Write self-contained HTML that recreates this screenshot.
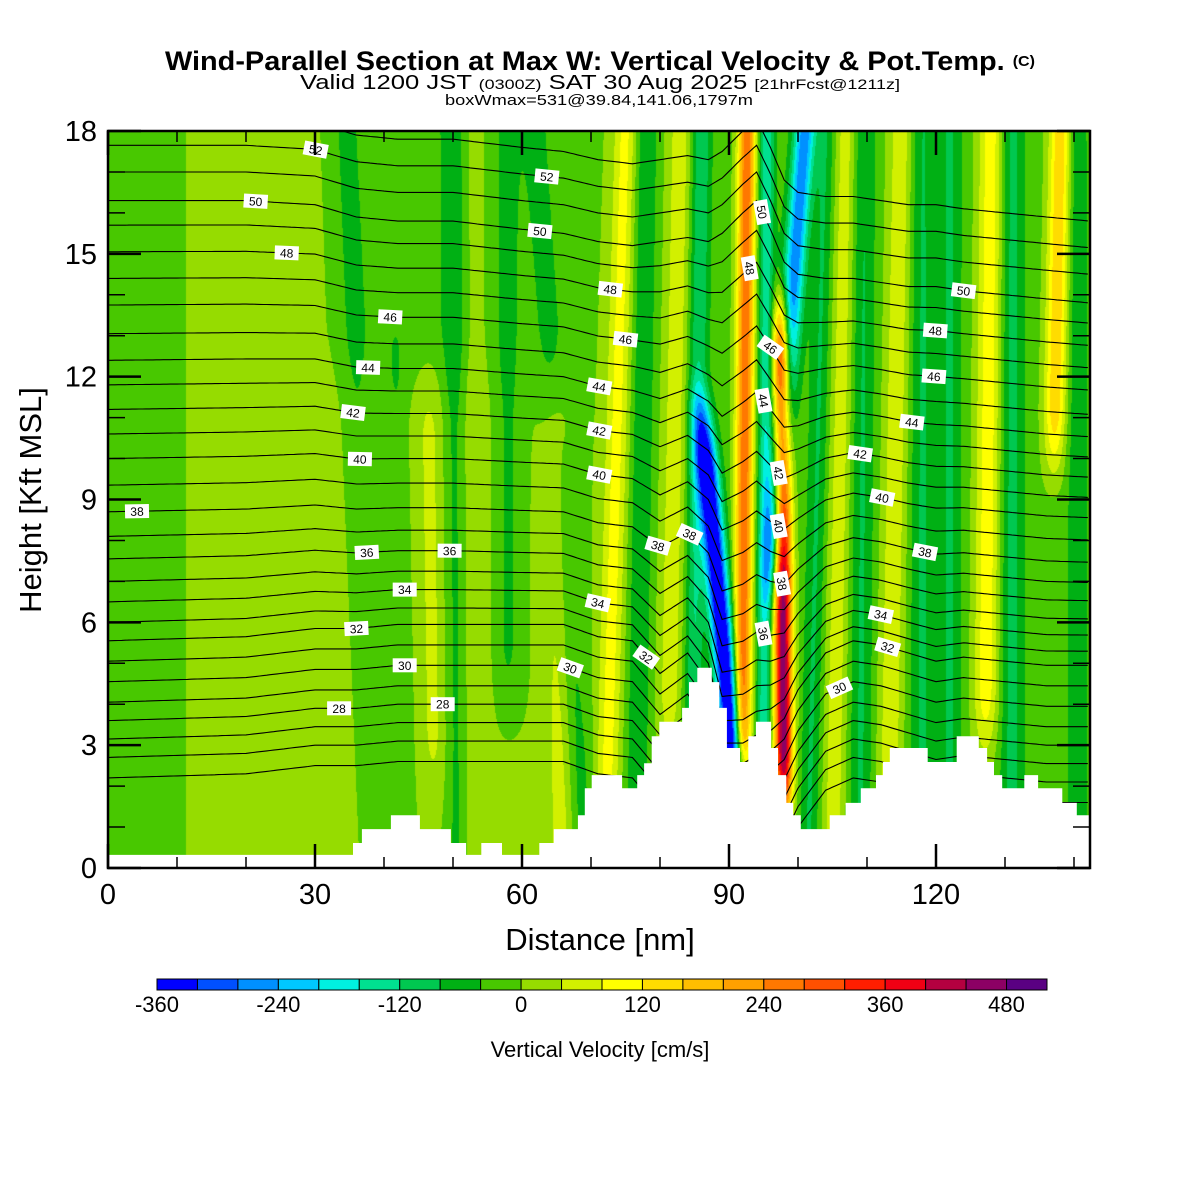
<!DOCTYPE html>
<html><head><meta charset="utf-8">
<style>
html,body{margin:0;padding:0;background:#fff;}
#wrap{position:relative;width:1200px;height:1200px;overflow:hidden;background:#fff;font-family:"Liberation Sans",Arial,sans-serif;}
#field{position:absolute;left:108px;top:131px;}
#ov{position:absolute;left:0;top:0;}
</style></head>
<body>
<div id="wrap">
<canvas id="field" width="982" height="737"></canvas>
<svg id="ov" width="1200" height="1200" xmlns="http://www.w3.org/2000/svg">
  <defs><clipPath id="pc"><rect x="108" y="131" width="982" height="737"/></clipPath></defs>
  <g>
    <text x="600" y="70" text-anchor="middle" font-size="27" font-weight="bold" textLength="870" lengthAdjust="spacingAndGlyphs">Wind-Parallel Section at Max W: Vertical Velocity &amp; Pot.Temp. <tspan font-size="15" dy="-4">(C)</tspan></text>
    <text x="600" y="89" text-anchor="middle" font-size="20" textLength="600" lengthAdjust="spacingAndGlyphs">Valid 1200 JST <tspan font-size="14">(0300Z)</tspan> SAT 30 Aug 2025 <tspan font-size="14">[21hrFcst@1211z]</tspan></text>
    <text x="599" y="105" text-anchor="middle" font-size="15" textLength="308" lengthAdjust="spacingAndGlyphs">boxWmax=531@39.84,141.06,1797m</text>
  </g>
  <g id="lines" clip-path="url(#pc)"></g>
  <path id="terrain" fill="#fff" stroke="none"/>
  <g id="labels"></g>
  <g id="axes"></g>
  <text x="600" y="950" text-anchor="middle" font-size="31">Distance [nm]</text>
  <text transform="translate(41,500) rotate(-90)" text-anchor="middle" font-size="31">Height [Kft MSL]</text>
  <g id="cbar"></g>
  <text x="600" y="1057" text-anchor="middle" font-size="22">Vertical Velocity [cm/s]</text>
</svg>
</div>
<script>
// ---- data ----
const binColors = ["#0000ff","#0050ff","#0090ff","#00c8ff","#00f0e0","#00e090","#00c850","#00b014","#48c800","#96dc00","#d2f000","#ffff00","#ffdc00","#ffbe00","#ffa000","#ff7800","#ff5000","#ff1e00","#f00014","#b40040","#8c0064","#5a0082"];
const binMin = -360, binStep = 40;
const cbarTickValues = [-360,-240,-120,0,120,240,360,480];
const xTickValues = [0,30,60,90,120];
const yTickValues = [0,3,6,9,12,15,18];

const bgX = [0,30,60,90,142.3];
const bgW = [15,15,5,-15,-15];

const bandX0  = [5, 46, 39, 43, 47.5, 50.5, 53.5, 58, 66, 69, 72, 76.5, 81, 84.5, 92.0, 93, 91.8, 95, 98, 101.5, 105, 109, 113, 118, 122, 127, 131, 136, 140.5];
const bandX1  = [5, 44, 34.5, 41, 46, 50, 53, 58, 64, 62, 75, 78, 83, 86, 82.5, 101, 92.6, 95.5, 97.5, 104, 107, 109.5, 115, 118, 122, 128, 131, 138, 140.5];
const bandSig = [4.5, 9, 1.6, 1.2, 1.3, 1.2, 1.3, 1.5, 1.4, 1.5, 1.2, 1.2, 1.3, 1.0, 1.1, 1.1, 0.9, 0.8, 0.9, 1.0, 1.2, 1.2, 1.3, 1.3, 1.2, 1.3, 1.2, 1.1, 1.0];
const bandAmp = [-40, -35, -45, -40, 40, -55, 28, -50, 65, -60, 100, -70, 75, -110, -400, -260, 290, -140, 480, -70, 80, -70, 85, -70, -70, 120, -80, 170, -60];
const bandZlo = [-2, 12, -2, -2, 2, -2, -2, 4, -2, -2, 1, -2, 3, 3, 1.5, 7, 2, 2, 1.5, -2, -2, -2, -2, -2, -2, 3, -2, 10, -2];
const bandZhi = [20, 20, 20, 13, 12, 20, 20, 20, 12, 20, 20, 20, 20, 20, 11, 20, 20, 20, 13.5, 20, 20, 20, 20, 20, 20, 20, 20, 20, 20];

const terrainX = [0,35.5,36.8,41.0,45.2,49.7,51.9,54.1,57.1,62.5,64.6,68.1,69.1,70.1,74.5,76.7,77.7,78.8,79.9,83.2,84.2,85.4,87.5,88.6,89.7,91.6,92.8,93.9,96.1,97.1,98.3,99.3,100.4,104.6,106.9,109.1,111.3,112.3,113.3,118.8,123.0,126.2,127.4,128.4,129.6,132.8,134.8,138.3,140.4];
const terrainZ = [0.32,0.61,0.95,1.29,0.95,0.61,0.32,0.61,0.32,0.61,0.95,1.29,1.95,2.27,1.95,2.27,2.56,3.22,3.57,3.91,4.54,4.89,4.54,3.91,2.93,2.59,3.22,3.57,2.93,2.27,1.59,1.29,0.95,1.29,1.59,1.95,2.27,2.59,2.93,2.59,3.22,2.93,2.59,2.27,1.95,2.27,1.95,1.59,1.29];

const thetaLevels = [25,26,27,28,29,30,31,32,33,34,35,36,37,38,39,40,41,42,43,44,45,46,47,48,49,50,51,52,53];
const thetaBaseZ  = [2.2,2.7,3.15,3.6,4.05,4.55,5.05,5.55,6.0,6.5,7.0,7.55,8.1,8.7,9.35,10.0,10.6,11.2,11.8,12.4,13.05,13.75,14.4,15.05,15.7,16.3,17.0,17.65,18.3];
const shiftX    = [0,20,30,36,42,50,60,66,71,76,80,84,87,89,92,94,96,98,100,104,108,112,116,120,124,130,136,142.3];
const shiftLow  = [0,0.1,0.3,0.3,0.4,0.4,0.4,0.4,0.1,0.0,-0.8,-0.3,-1.0,-2.5,-2.5,-2.3,-2.2,-1.9,-1.2,-0.3,0.0,-0.1,-0.3,-0.5,-0.4,-0.5,-0.6,-0.6];
const shiftHigh = [0,0,-0.1,-0.4,-0.5,-0.5,-0.7,-0.8,-1.0,-1.1,-1.0,-0.9,-1.0,-0.8,-0.3,0.0,-0.7,-1.5,-1.8,-1.9,-1.9,-2.0,-2.1,-2.1,-2.2,-2.3,-2.4,-2.5];

const labelLevel = [52,52,50,50,50,50,48,48,48,48,46,46,46,46,44,44,44,44,42,42,42,42,40,40,40,40,38,38,38,38,38,36,36,36,34,34,34,32,32,32,30,30,30,28,28];
const labelX     = [30.1,63.6,21.4,62.6,94.8,124,25.9,72.8,93,119.9,40.9,75,96,119.7,37.7,71.2,95,116.5,35.5,71.2,97.2,109,36.5,71.2,97.2,112.2,4.2,84.3,79.7,97.7,118.4,37.5,49.5,95,43,71,112,36,78,113,43,67,106,33.5,48.5];
const labelVert  = [0,0,0,0,1,0,0,0,1,0,0,0,0,0,0,0,1,0,0,0,1,0,0,0,1,0,0,0,0,1,0,0,0,1,0,0,0,0,0,0,0,0,0,0,0];

// ---- scales ----
const X0 = 108, Y0 = 868, PXNM = 6.9, PXKFT = 40.944, XMAX = 142.3, ZMAX = 18;
const xPx = nm => X0 + nm * PXNM;
const yPx = z => Y0 - z * PXKFT;
function interp(xs, ys, x){
  if (x <= xs[0]) return ys[0];
  for (let i = 1; i < xs.length; i++){ if (x <= xs[i]){ const t = (x - xs[i-1])/(xs[i]-xs[i-1]); return ys[i-1] + t*(ys[i]-ys[i-1]); } }
  return ys[ys.length-1];
}
function ss(t){ let u = Math.min(1, Math.max(0, (t+1)/2)); return u*u*(3-2*u); }
function wAt(x, z){
  let w = interp(bgX, bgW, x);
  for (let i = 0; i < bandAmp.length; i++){
    const c = bandX0[i] + (bandX1[i]-bandX0[i]) * z / 18;
    const d = (x - c) / bandSig[i];
    if (Math.abs(d) > 4) continue;
    const tp = ss((z - bandZlo[i])/1.5) * ss((bandZhi[i] - z)/1.5);
    w += bandAmp[i] * Math.exp(-d*d/2) * tp;
  }
  return w;
}
function hex2rgb(h){ return [parseInt(h.substr(1,2),16),parseInt(h.substr(3,2),16),parseInt(h.substr(5,2),16)]; }

// ---- field ----
(function(){
  const cv = document.getElementById('field'), ctx = cv.getContext('2d');
  const img = ctx.createImageData(cv.width, cv.height), d = img.data;
  const rgb = binColors.map(hex2rgb);
  for (let j = 0; j < cv.height; j++){
    const z = (Y0 - (131 + j + 0.5)) / PXKFT;
    for (let i = 0; i < cv.width; i++){
      const x = (i + 0.5) / PXNM;
      let b = Math.floor((wAt(x, z) - binMin) / binStep);
      b = Math.max(0, Math.min(binColors.length-1, b));
      const k = (j*cv.width + i)*4, c = rgb[b];
      d[k]=c[0]; d[k+1]=c[1]; d[k+2]=c[2]; d[k+3]=255;
    }
  }
  ctx.putImageData(img, 0, 0);
})();

// ---- theta lines ----
const NS = "http://www.w3.org/2000/svg";
function thetaZ(li, x){
  const L = thetaLevels[li];
  const t = Math.min(1, Math.max(0, (L - 32) / 18));
  const s = interp(shiftX, shiftLow, x) * (1-t) + interp(shiftX, shiftHigh, x) * t;
  return thetaBaseZ[li] + s;
}
const gl = document.getElementById('lines');
thetaLevels.forEach((L, li) => {
  let pts = [];
  for (let x = 0; x <= XMAX + 0.01; x += 0.5){ pts.push(xPx(x).toFixed(1) + "," + yPx(thetaZ(li, x)).toFixed(1)); }
  const p = document.createElementNS(NS, 'polyline');
  p.setAttribute('points', pts.join(' '));
  p.setAttribute('fill', 'none'); p.setAttribute('stroke', '#000'); p.setAttribute('stroke-width', '1.1');
  
  
  gl.appendChild(p);
});

// ---- terrain ----
(function(){
  let d = "M" + xPx(0) + "," + (Y0+2);
  for (let i = 0; i < terrainX.length; i++){
    const xs = xPx(terrainX[i]), xe = xPx(i+1 < terrainX.length ? terrainX[i+1] : XMAX);
    d += " L" + xs.toFixed(1) + "," + yPx(terrainZ[i]).toFixed(1) + " L" + xe.toFixed(1) + "," + yPx(terrainZ[i]).toFixed(1);
  }
  d += " L" + xPx(XMAX) + "," + (Y0+2) + " Z";
  const t = document.getElementById('terrain');
  t.setAttribute('d', d);
})();

// ---- labels ----
const glb = document.getElementById('labels');
labelLevel.forEach((L, k) => {
  const li = thetaLevels.indexOf(L), x = labelX[k];
  const z = thetaZ(li, x);
  let ang;
  if (labelVert[k]) ang = 80;
  else {
    const dz = (thetaZ(li, x+1) - thetaZ(li, x-1)) / 2;
    ang = Math.atan2(-dz * PXKFT, PXNM) * 180 / Math.PI;
    ang = Math.max(-35, Math.min(35, ang));
  }
  const g = document.createElementNS(NS, 'g');
  g.setAttribute('transform', 'translate(' + xPx(x).toFixed(1) + ',' + yPx(z).toFixed(1) + ') rotate(' + ang.toFixed(1) + ')');
  
  
  const r = document.createElementNS(NS, 'rect');
  r.setAttribute('x', -12); r.setAttribute('y', -7); r.setAttribute('width', 24); r.setAttribute('height', 14); r.setAttribute('fill', '#fff');
  const tx = document.createElementNS(NS, 'text');
  tx.setAttribute('x', 0); tx.setAttribute('y', 4.5); tx.setAttribute('text-anchor', 'middle'); tx.setAttribute('font-size', '12');
  tx.textContent = L;
  g.appendChild(r); g.appendChild(tx); glb.appendChild(g);
});

// ---- axes ----
const ga = document.getElementById('axes');
function line(x1,y1,x2,y2,w,name){
  const l = document.createElementNS(NS,'line');
  l.setAttribute('x1',x1); l.setAttribute('y1',y1); l.setAttribute('x2',x2); l.setAttribute('y2',y2);
  l.setAttribute('stroke','#000'); l.setAttribute('stroke-width',w);
  
  
  ga.appendChild(l);
}
function text(x,y,s,size,anchor,name){
  const t = document.createElementNS(NS,'text');
  t.setAttribute('x',x); t.setAttribute('y',y); t.setAttribute('font-size',size); t.setAttribute('text-anchor',anchor);
  t.textContent = s;
  
  
  ga.appendChild(t);
}
for (let v = 0; v <= XMAX; v += 10){
  const major = v % 30 === 0, x = xPx(v), len = major ? 24 : 11;
  line(x, Y0, x, Y0-len, major?2.5:1.5, 'x-tick');
  line(x, 131, x, 131+len, major?2.5:1.5, 'x-tick-top');
}
for (let v = 0; v <= ZMAX; v += 1){
  const major = v % 3 === 0, y = yPx(v), len = major ? 33 : 17;
  line(108, y, 108+len, y, major?2.5:1.5, 'y-tick');
  line(1090, y, 1090-len, y, major?2.5:1.5, 'y-tick-right');
}
xTickValues.forEach(v => text(xPx(v), 904, String(v), 29, 'middle', 'x-tick-label'));
yTickValues.forEach(v => text(97, yPx(v)+10, String(v), 29, 'end', 'y-tick-label'));
const fr = document.createElementNS(NS,'rect');
fr.setAttribute('x',108); fr.setAttribute('y',131); fr.setAttribute('width',982); fr.setAttribute('height',737);
fr.setAttribute('fill','none'); fr.setAttribute('stroke','#000'); fr.setAttribute('stroke-width','2.5');


ga.appendChild(fr);

// ---- colorbar ----
const gc = document.getElementById('cbar');
const CB0 = 157, CBW = (1047-157)/binColors.length;
binColors.forEach((c, i) => {
  const r = document.createElementNS(NS,'rect');
  r.setAttribute('x', CB0 + i*CBW); r.setAttribute('y', 979); r.setAttribute('width', CBW); r.setAttribute('height', 11);
  r.setAttribute('fill', c); r.setAttribute('stroke', '#000'); r.setAttribute('stroke-width', '1');
  
  
  gc.appendChild(r);
});
cbarTickValues.forEach(v => {
  const t = document.createElementNS(NS,'text');
  t.setAttribute('x', CB0 + (v - binMin)/binStep*CBW); t.setAttribute('y', 1012);
  t.setAttribute('font-size', 22); t.setAttribute('text-anchor', 'middle');
  t.textContent = String(v);
  
  
  gc.appendChild(t);
});
</script>
</body></html>
